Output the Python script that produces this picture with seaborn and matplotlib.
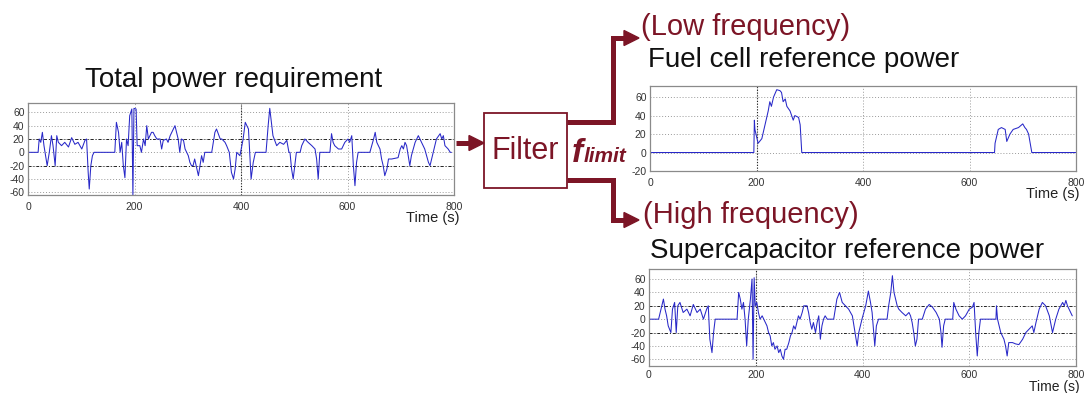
import matplotlib
matplotlib.use("Agg")
import matplotlib.pyplot as plt
from matplotlib.patches import Polygon, Rectangle
import seaborn as sns

# ---- series: time (s) and power for each signal ----
total_t = [0, 19, 21, 24, 27, 30, 34, 36, 40, 44, 47, 51, 54, 57, 63, 69, 76, 82, 88, 94,
           101, 107, 110, 113, 115, 118, 121, 124, 163, 166, 170, 173, 176, 179, 182, 185, 188, 191, 195, 197,
           199, 203, 205, 210, 213, 217, 220, 223, 226, 232, 235, 238, 242, 248, 251, 254, 260, 263, 267, 273,
           276, 279, 282, 285, 288, 292, 295, 301, 304, 307, 310, 313, 320, 323, 326, 329, 332, 345, 351, 354,
           361, 364, 370, 373, 378, 382, 386, 389, 392, 398, 404, 408, 414, 417, 419, 423, 427, 447, 451, 454,
           457, 460, 467, 473, 480, 486, 490, 492, 495, 498, 501, 504, 511, 514, 520, 526, 533, 539, 542, 545,
           548, 567, 570, 573, 576, 583, 589, 595, 601, 604, 608, 611, 614, 617, 620, 642, 649, 652, 655, 661,
           664, 667, 670, 674, 677, 683, 695, 699, 702, 705, 708, 711, 714, 717, 720, 727, 733, 736, 739, 745,
           752, 755, 758, 764, 767, 774, 777, 780, 783, 789, 793, 795]
total_p = [0, 0, 20, 15, 30, 10, -10, -20, 0, 25, 10, -20, 25, 15, 10, 15, 8, 22, 12, 15,
           5, 18, 20, -30, -55, -20, -5, 0, 0, 45, 30, 0, 15, -20, -38, 20, 10, 55, 65, -65,
           66, 65, 10, 10, 0, 20, 10, 40, 20, 30, 30, 25, 20, 20, 5, 18, 20, 15, 25, 35,
           40, 30, 20, 0, 20, 18, 5, -5, -15, -20, -20, -10, -35, -20, -5, -15, 0, 0, 30, 35,
           20, 20, 15, 10, 0, -30, -40, -25, 0, -5, 20, 45, 35, -10, -40, -15, 0, 0, 40, 66,
           45, 25, 10, 15, 12, 18, 0, 0, -25, -40, -20, 0, 0, 10, 20, 15, 10, 5, -10, -40,
           0, 0, 28, 15, 10, 5, 5, 15, 20, 15, 25, -20, -50, -15, 0, 0, 20, 30, 15, 5,
           -10, -20, -35, -25, -10, -10, -8, 5, 10, 5, 15, 10, -5, -20, -5, 15, 25, 20, 15, 5,
           -15, -20, -10, 10, 20, 28, 20, 25, 10, 5, 0, 0]

fc_t = [0, 195, 196, 197, 203, 210, 216, 222, 225, 228, 232, 238, 244, 247, 250, 254, 257, 263, 269, 272,
        279, 282, 285, 286, 647, 648, 654, 660, 667, 670, 676, 682, 692, 700, 704, 707, 711, 714, 717, 718, 800]
fc_p = [0, 0, 35, 25, 10, 15, 30, 45, 55, 50, 60, 68, 67, 65, 55, 58, 50, 45, 35, 40,
        38, 30, 0, 0, 0, 10, 25, 27, 25, 12, 20, 25, 27, 31, 27, 25, 20, 10, 0, 0, 0]

sc_t = [0, 18, 21, 24, 27, 30, 33, 36, 41, 44, 48, 51, 54, 58, 64, 71, 77, 83, 90, 96,
        102, 108, 111, 114, 118, 121, 124, 165, 168, 171, 174, 177, 180, 183, 186, 190, 193, 195, 197, 199,
        202, 205, 208, 212, 215, 218, 221, 224, 227, 230, 233, 236, 240, 243, 246, 249, 252, 255, 258, 262,
        265, 268, 271, 274, 277, 280, 283, 287, 290, 293, 296, 299, 302, 305, 308, 312, 315, 318, 321, 324,
        327, 330, 334, 346, 352, 357, 362, 368, 374, 381, 384, 387, 390, 393, 399, 406, 411, 415, 418, 421,
        423, 426, 430, 446, 449, 453, 456, 459, 462, 465, 468, 474, 481, 487, 490, 493, 496, 499, 502, 505,
        512, 518, 525, 531, 538, 544, 547, 549, 552, 555, 569, 571, 575, 581, 587, 593, 600, 606, 609, 612,
        615, 618, 621, 650, 651, 653, 656, 659, 662, 665, 668, 671, 674, 681, 687, 693, 700, 706, 712, 718,
        721, 725, 731, 737, 743, 750, 756, 759, 762, 768, 775, 778, 781, 784, 787, 793]
sc_p = [0, 0, 10, 20, 30, 15, 5, -10, -20, 15, 25, -20, 20, 25, 10, 15, 5, 22, 10, 15,
        0, 15, 20, -30, -50, -20, 0, 0, 40, 30, 15, 25, 0, -40, 0, 30, 60, -60, 62, 20,
        25, 10, 0, 5, 0, -5, -10, -20, -25, -40, -35, -45, -40, -50, -45, -55, -60, -45, -45, -35,
        -25, -20, -10, -15, -5, 5, 0, 10, 20, 20, 20, 10, -5, -15, -5, -20, -5, 5, -30, -10,
        0, 5, 0, 0, 30, 40, 25, 20, 15, 5, -10, -25, -40, -20, 0, 20, 42, 25, 10, -20,
        -40, -10, 0, 0, 20, 40, 65, 40, 30, 20, 15, 10, 5, 10, 5, -5, -20, -40, -30, 0,
        0, 15, 22, 18, 10, 0, -20, -42, -10, 0, 0, 25, 15, 5, 0, 5, 15, 18, 25, -20,
        -55, -20, 0, 0, 20, 0, -10, -20, -25, -30, -40, -55, -35, -35, -37, -38, -30, -20, -15, -10,
        -20, -5, 15, 25, 20, 5, -20, -10, 0, 15, 25, 20, 28, 20, 15, 5]

time_ticks = [0, 200, 400, 600, 800]
total_yticks = [-60, -40, -20, 0, 20, 40, 60]
fc_yticks = [-20, 0, 20, 40, 60]
sc_yticks = [-60, -40, -20, 0, 20, 40, 60]

# ---- text ----
left_title = "Total power requirement"
fc_band = "(Low frequency)"
fc_title = "Fuel cell reference power"
sc_band = "(High frequency)"
sc_title = "Supercapacitor reference power"
filter_label = "Filter"
xlabel = "Time (s)"

W, H = 1086, 393
RED = "#7c1526"
LINE = "#2828c8"

sns.set_theme(style="white")
plt.rcParams["font.family"] = ["Liberation Sans", "DejaVu Sans"]
plt.rcParams["axes.unicode_minus"] = False

fig = plt.figure(figsize=(W / 100, H / 100), dpi=100)


def box(x0, y0, x1, y1):
    return [x0 / W, 1 - y1 / H, (x1 - x0) / W, (y1 - y0) / H]


def panel(rect, t, p, ylim, yticks, dark_h, dark_v, xpad=5):
    ax = fig.add_axes(rect)
    for yv in yticks:
        ax.axhline(yv, color="#9a9a9a", lw=0.7, ls=(0, (1, 2)), zorder=0)
    for xv in time_ticks[1:-1]:
        ax.axvline(xv, color="#9a9a9a", lw=0.7, ls=(0, (1, 2)), zorder=0)
    for yv in dark_h:
        ax.axhline(yv, color="#222222", lw=0.7, ls=(0, (3, 2, 1, 2)), zorder=0)
    for xv in dark_v:
        ax.axvline(xv, color="#222222", lw=0.8, ls=(0, (1, 1.5)), zorder=0)
    sns.lineplot(x=t, y=p, ax=ax, color=LINE, linewidth=0.75, estimator=None,
                 sort=False, zorder=2)
    ax.set_xlim(0, 800)
    ax.set_ylim(*ylim)
    ax.set_xticks(time_ticks)
    ax.set_yticks(yticks)
    ax.set_xlabel("")
    ax.set_ylabel("")
    ax.tick_params(axis="both", labelsize=7.5, colors="#333333", direction="in",
                   length=2.5, width=0.6, pad=2.5)
    ax.tick_params(axis="x", pad=xpad)
    for s in ax.spines.values():
        s.set_color("#8a8a8a")
        s.set_linewidth(0.9)
    return ax


panel(box(28, 103, 454, 195), total_t, total_p, (-64, 74), total_yticks, [-20, 20], [400])
panel(box(650, 86, 1076, 171), fc_t, fc_p, (-20, 72), fc_yticks, [], [200])
panel(box(649, 269, 1076, 366), sc_t, sc_p, (-70, 75), sc_yticks, [-20, 20], [200], xpad=3)

# ---- diagram overlay in pixel coordinates ----
ov = fig.add_axes([0, 0, 1, 1], zorder=5)
ov.set_xlim(0, W)
ov.set_ylim(H, 0)
ov.axis("off")
ov.patch.set_alpha(0)

ov.text(234, 87, left_title, fontsize=20, ha="center", va="baseline", color="#111111")
ov.text(641, 35, fc_band, fontsize=21, ha="left", va="baseline", color=RED)
ov.text(648, 67, fc_title, fontsize=20, ha="left", va="baseline", color="#111111")
ov.text(643, 223, sc_band, fontsize=21, ha="left", va="baseline", color=RED)
ov.text(650, 258, sc_title, fontsize=20, ha="left", va="baseline", color="#111111")

ov.text(460, 222, xlabel, fontsize=10.5, ha="right", va="baseline", color="#222222")
ov.text(1080, 198, xlabel, fontsize=10.5, ha="right", va="baseline", color="#222222")
ov.text(1080, 391.5, xlabel, fontsize=10, ha="right", va="baseline", color="#222222")

# filter block
ov.add_patch(Rectangle((484, 113), 83, 75, facecolor="white", edgecolor=RED, lw=1.3))
ov.text(525, 159, filter_label, fontsize=22, ha="center", va="baseline", color=RED)
ov.text(572, 162, "f", fontsize=24, ha="left", va="baseline", color=RED,
        fontweight="bold", fontstyle="italic")
ov.text(584, 162, "limit", fontsize=15, ha="left", va="baseline", color=RED,
        fontweight="bold", fontstyle="italic")

# arrows
shaft = dict(color=RED, lw=3.6, solid_capstyle="butt", solid_joinstyle="miter")
ov.plot([456, 470], [143, 143], **shaft)
ov.add_patch(Polygon([(469, 135.5), (484, 143), (469, 150.5)], closed=True, color=RED))
ov.plot([567, 613, 613, 626], [122, 122, 38, 38], **shaft)
ov.add_patch(Polygon([(624, 30.5), (639, 38), (624, 45.5)], closed=True, color=RED))
ov.plot([567, 613, 613, 626], [180, 180, 220, 220], **shaft)
ov.add_patch(Polygon([(624, 212.5), (639, 220), (624, 227.5)], closed=True, color=RED))

fig.savefig("out.png", dpi=100)
